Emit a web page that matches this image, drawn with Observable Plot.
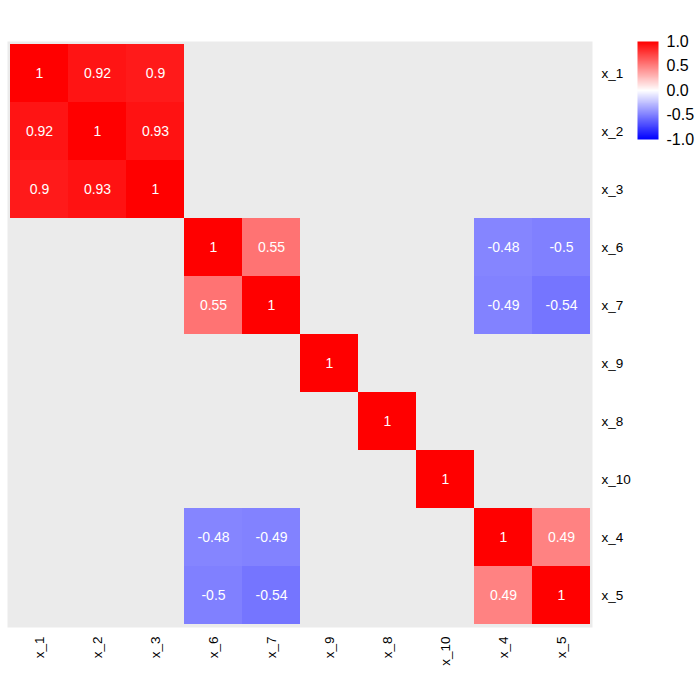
<!DOCTYPE html>
<html>
<head>
<meta charset="utf-8">
<script src="https://cdn.jsdelivr.net/npm/d3@7"></script>
<script src="https://cdn.jsdelivr.net/npm/@observablehq/plot@0.6"></script>
<style>
  body { margin: 0; background: #fff; overflow: hidden; }
  #wrap { position: relative; width: 700px; height: 700px; }
  #chart svg, #legend svg { display: block; max-width: none !important; }
  #legend { position: absolute; left: 630px; top: 29px; width: 75px; height: 122px; }
</style>
</head>
<body>
<div id="wrap"><div id="chart"></div><div id="legend"></div></div>
<script>
const vars = ["x_1","x_2","x_3","x_6","x_7","x_9","x_8","x_10","x_4","x_5"];
// off-diagonal correlations (upper pairs; mirrored)
const pairA = ["x_1","x_1","x_2","x_6","x_6","x_6","x_7","x_7","x_4"];
const pairB = ["x_2","x_3","x_3","x_7","x_4","x_5","x_4","x_5","x_5"];
const pairR = [0.92, 0.9, 0.93, 0.55, -0.48, -0.5, -0.49, -0.54, 0.49];
const legendTicks = [-1, -0.5, 0, 0.5, 1];

const data = [];
vars.forEach(v => data.push({row: v, col: v, value: 1}));
pairA.forEach((a, i) => {
  data.push({row: a, col: pairB[i], value: pairR[i]});
  data.push({row: pairB[i], col: a, value: pairR[i]});
});

const colorScale = {type: "linear", domain: [-1, 0, 1], range: ["blue", "white", "red"], interpolate: "rgb"};
const font = "'Liberation Sans', Arial, sans-serif";

const chart = Plot.plot({
  width: 700, height: 700,
  marginLeft: 7, marginRight: 108, marginTop: 41, marginBottom: 73,
  style: {fontFamily: font, fontSize: "14px", color: "black", background: "white"},
  x: {domain: vars, padding: 0, label: null},
  y: {domain: vars, padding: 0, label: null},
  color: colorScale,
  marks: [
    Plot.frame({fill: "#EBEBEB", stroke: null}),
    Plot.cell(data, {x: "col", y: "row", fill: "value", inset: 0}),
    Plot.text(data, {x: "col", y: "row", text: d => String(d.value), fill: "white", fontSize: 14}),
    Plot.axisX({tickRotate: -90, tickSize: 0, tickPadding: 9, label: null, fontSize: 13.5}),
    Plot.axisY({anchor: "right", tickSize: 0, tickPadding: 9, label: null, fontSize: 13.5})
  ]
});
document.getElementById("chart").appendChild(chart);

const legend = Plot.plot({
  width: 75, height: 122,
  marginLeft: 7, marginRight: 47, marginTop: 12, marginBottom: 12,
  style: {fontFamily: font, fontSize: "16px", color: "black", background: "transparent"},
  x: {domain: [0, 1], axis: null},
  y: {domain: [-1, 1], label: null},
  color: colorScale,
  marks: [
    Plot.raster({x1: 0, x2: 1, y1: -1, y2: 1, width: 1, height: 200, fill: (x, y) => y}),
    Plot.axisY({anchor: "right", ticks: legendTicks, tickSize: 0, tickPadding: 8, tickFormat: d => d.toFixed(1), label: null, fontSize: 16})
  ]
});
document.getElementById("legend").appendChild(legend);
</script>
</body>
</html>
